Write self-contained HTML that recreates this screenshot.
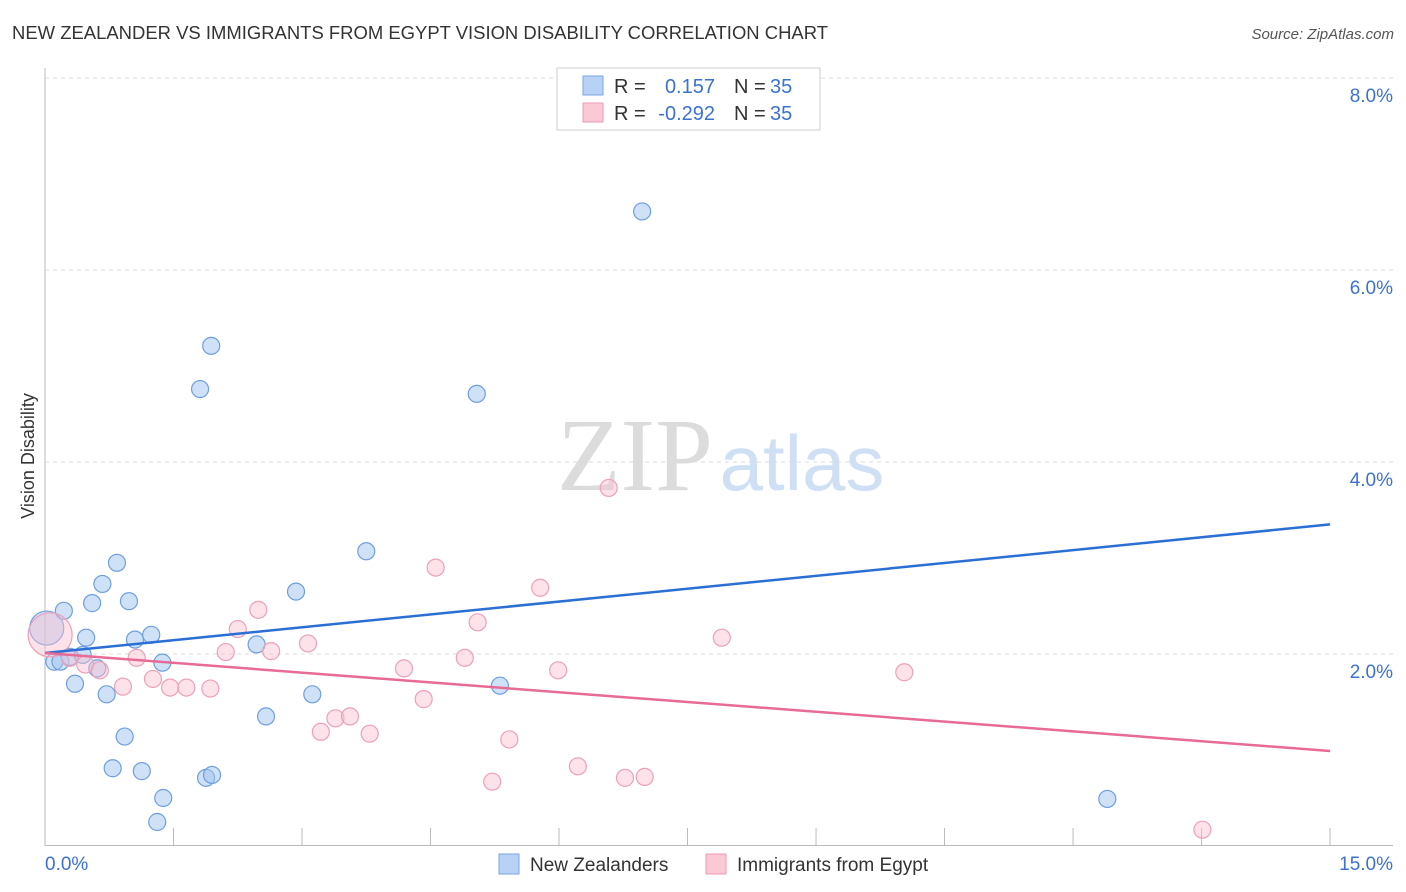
<!DOCTYPE html>
<html><head><meta charset="utf-8"><style>
body{margin:0;background:#fff;font-family:"Liberation Sans",sans-serif}
svg{display:block}
</style></head><body>
<svg id="chart" width="1406" height="892" xmlns="http://www.w3.org/2000/svg">
<text x="12" y="39" font-size="18" fill="#333" textLength="816" lengthAdjust="spacingAndGlyphs">NEW ZEALANDER VS IMMIGRANTS FROM EGYPT VISION DISABILITY CORRELATION CHART</text>
<text x="1394" y="39" font-size="15" fill="#555" text-anchor="end" font-style="italic">Source: ZipAtlas.com</text>
<text transform="translate(34,456) rotate(-90)" font-size="18" fill="#333" text-anchor="middle">Vision Disability</text>
<g>
<text x="635" y="490" font-size="104" fill="#dcdcdc" font-family="Liberation Serif" text-anchor="middle">ZIP</text>
<text x="802" y="490" font-size="78" fill="#cfe0f5" text-anchor="middle">atlas</text>
</g>
<g id="grid"></g><g id="axes"></g><g id="pts"></g><g id="lines"></g>
<g>
<rect x="557" y="68" width="263" height="62" fill="#fff" stroke="#ccc"/>
<rect x="583" y="76" width="20" height="19" fill="#b8d2f5" stroke="#7aa6e6"/>
<rect x="583" y="103" width="20" height="19" fill="#fbc8d6" stroke="#ee9ab3"/>
<text x="614" y="93" font-size="20" fill="#333">R = </text><text x="715" y="93" font-size="20" fill="#3a72d0" text-anchor="end">0.157</text>
<text x="734" y="93" font-size="20" fill="#333">N = </text><text x="770" y="93" font-size="20" fill="#3a72d0">35</text>
<text x="614" y="120" font-size="20" fill="#333">R = </text><text x="715" y="120" font-size="20" fill="#3a72d0" text-anchor="end">-0.292</text>
<text x="734" y="120" font-size="20" fill="#333">N = </text><text x="770" y="120" font-size="20" fill="#3a72d0">35</text>
</g>
<g>
<rect x="499" y="854" width="20" height="20" fill="#b8d2f5" stroke="#7aa6e6"/>
<text x="530" y="871" font-size="19" fill="#333">New Zealanders</text>
<rect x="706" y="854" width="20" height="20" fill="#fbc8d6" stroke="#ee9ab3"/>
<text x="737" y="871" font-size="19" fill="#333">Immigrants from Egypt</text>
</g>
</svg>
<script>
const yTicks=[2,4,6,8];
const yTickLabels=["2.0%","4.0%","6.0%","8.0%"];
const xTickValues=[0,1.5,3,4.5,6,7.5,9,10.5,12,13.5,15];
const blueX=[0.02,0.11,0.18,0.22,0.35,0.48,0.55,0.61,0.67,0.72,0.84,0.93,0.98,0.79,1.05,1.13,1.24,1.37,1.38,1.31,1.81,1.94,1.88,1.95,2.47,2.58,2.93,3.12,3.75,5.04,5.31,6.97,12.40,0.29,0.44];
const blueY=[2.27,1.92,1.92,2.45,1.69,2.17,2.53,1.85,2.73,1.58,2.95,1.14,2.55,0.81,2.15,0.78,2.20,1.91,0.50,0.25,4.76,5.21,0.71,0.74,2.10,1.35,2.65,1.58,3.07,4.71,1.67,6.61,0.49,1.97,1.99];
const pinkX=[0.06,0.29,0.47,0.64,0.91,1.07,1.26,1.46,1.65,1.93,2.11,2.25,2.49,2.64,3.07,3.22,3.39,3.56,3.79,4.19,4.42,4.56,4.90,5.05,5.22,5.42,5.78,5.99,6.22,6.58,6.77,7.00,7.90,10.03,13.51];
const pinkY=[2.20,1.96,1.89,1.83,1.66,1.96,1.74,1.65,1.65,1.64,2.02,2.26,2.46,2.03,2.11,1.19,1.33,1.35,1.17,1.85,1.53,2.90,1.96,2.33,0.67,1.11,2.69,1.83,0.83,3.73,0.71,0.72,2.17,1.81,0.17];
const blueTrend=[2.01,3.35];
const pinkTrend=[2.01,0.99];
const NS="http://www.w3.org/2000/svg";
const X=v=>45+v*85.67, Y=v=>846-v*96;
function mk(t,a,p){const e=document.createElementNS(NS,t);for(const k in a)e.setAttribute(k,a[k]);document.getElementById(p).appendChild(e);return e;}
yTicks.forEach((t,i)=>{
 let g=mk('line',{x1:45,x2:1393,y1:Y(t),y2:Y(t),stroke:'#ddd','stroke-dasharray':'4,4'},'grid');
 
 
 let l=mk('text',{x:1393,y:Y(t)+24,'font-size':19,fill:'#3a72d0','text-anchor':'end'},'grid');
 
 
 l.textContent=yTickLabels[i];
});
let ax=mk('line',{x1:45,x2:45,y1:68,y2:846,stroke:'#bbb'},'axes');


let bx=mk('line',{x1:45,x2:1393,y1:845.5,y2:845.5,stroke:'#bbb'},'axes');


xTickValues.forEach(v=>{
 let t=mk('line',{x1:X(v),x2:X(v),y1:828,y2:846,stroke:'#bbb'},'axes');
 
 
});
let x0=mk('text',{x:45,y:870,'font-size':19,fill:'#3a72d0'},'axes');


x0.textContent='0.0%';
let x1=mk('text',{x:1393,y:870,'font-size':19,fill:'#3a72d0','text-anchor':'end'},'axes');


x1.textContent='15.0%';
blueX.forEach((v,i)=>{
 let c=mk('circle',{cx:X(v),cy:Y(blueY[i]),r:i==0?17:8.5,fill:'rgba(160,195,240,0.5)',stroke:'#6d9fe0','stroke-width':1.2},'pts');
 
 
});
pinkX.forEach((v,i)=>{
 let c=mk('circle',{cx:X(v),cy:Y(pinkY[i]),r:i==0?22:8.5,fill:'rgba(250,190,208,0.45)',stroke:'#eea0b8','stroke-width':1.2},'pts');
 
 
});
let bl=mk('line',{x1:X(0),x2:X(15),y1:Y(blueTrend[0]),y2:Y(blueTrend[1]),stroke:'#2a6fd6','stroke-width':2.5},'lines');


let pl=mk('line',{x1:X(0),x2:X(15),y1:Y(pinkTrend[0]),y2:Y(pinkTrend[1]),stroke:'#e86a96','stroke-width':2.5},'lines');


</script>
</body></html>
